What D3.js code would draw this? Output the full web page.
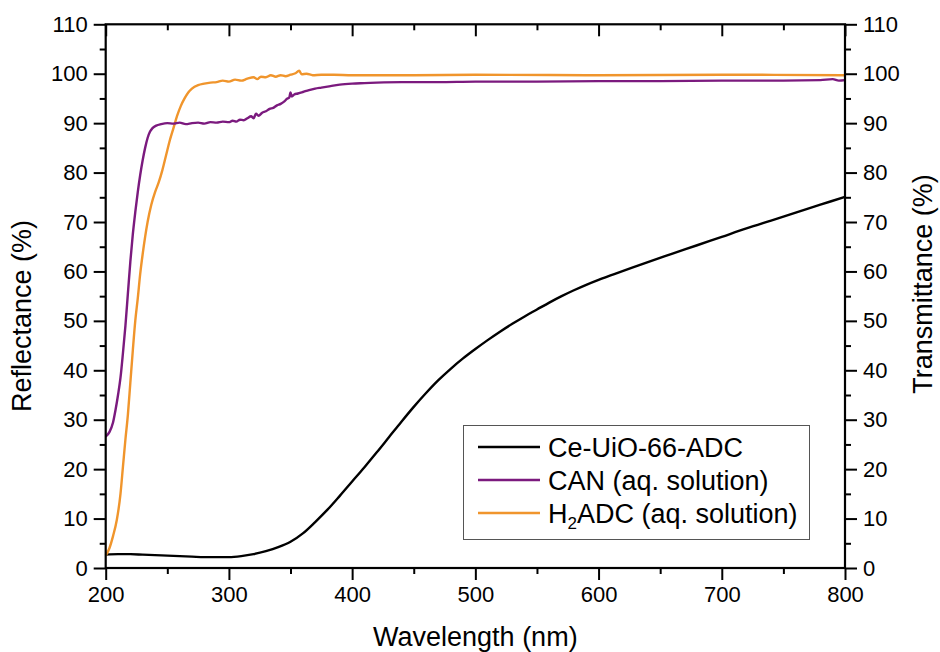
<!DOCTYPE html>
<html><head><meta charset="utf-8">
<script src="https://cdn.jsdelivr.net/npm/d3@7"></script>
<style>body{margin:0;background:#fff}svg{display:block;font-family:Arial,"Liberation Sans",sans-serif}</style>
</head><body><svg id="c" width="940" height="652"></svg>
<script>
// ---- data ----
const xTicks = [200, 300, 400, 500, 600, 700, 800];
const yTicks = [0, 10, 20, 30, 40, 50, 60, 70, 80, 90, 100, 110];
const seriesNames = ["Ce-UiO-66-ADC", "CAN (aq. solution)", "H2ADC (aq. solution)"];
const seriesColors = ["#000000", "#7b1a7e", "#f0952c"];

const ceWl  = [200,210,220,230,240,250,260,270,280,290,300,310,320,330,340,350,360,370,380,390,400,410,420,430,440,450,460,470,480,490,500,510,520,530,540,550,560,570,580,590,600,620,640,660,680,700,720,740,760,780,800];
const ceVal = [2.7,2.8,2.8,2.7,2.6,2.5,2.4,2.3,2.2,2.2,2.2,2.4,2.8,3.4,4.2,5.3,7.0,9.3,11.8,14.6,17.5,20.4,23.4,26.5,29.6,32.6,35.4,38.0,40.3,42.4,44.3,46.1,47.8,49.4,50.9,52.3,53.7,55.0,56.2,57.3,58.3,60.1,61.9,63.6,65.3,67.0,68.7,70.3,71.9,73.5,75.1];

const canWl  = [200,203,206,208,210,212,214,216,218,220,222,224,226,228,230,232,234,236,238,241,245,250,255,260,265,270,275,280,285,290,295,300,303,306,309,312,315,318,320,322,324,327,330,333,336,339,342,345,347,349,350,351,353,356,360,365,370,375,380,390,400,410,420,440,470,500,550,600,650,700,750,780,790,795,800];
const canVal = [26.6,27.5,29.5,32,35,38.5,43.5,49,55.5,62,67.5,72,76,79.5,82.5,85,87,88.3,89,89.5,89.8,90,89.9,90.1,89.8,90,90.1,89.9,90.2,90.1,90.3,90.2,90.5,90.3,90.7,90.6,91.0,91.4,91.0,91.9,91.5,92.1,92.4,92.9,93.1,93.6,93.9,94.4,94.9,95.2,96.2,95.4,95.8,96.0,96.3,96.7,97.0,97.2,97.4,97.8,98.0,98.1,98.2,98.3,98.3,98.4,98.4,98.5,98.5,98.6,98.6,98.7,98.9,98.6,98.7];

const h2Wl  = [200,203,206,209,212,214,216,218,220,222,224,226,228,230,232,234,237,240,243,246,249,252,255,258,261,264,267,270,275,280,285,290,295,300,305,310,315,320,323,326,330,334,338,342,346,350,354,357,359,363,368,375,385,400,450,500,600,700,800];
const h2Val = [2.5,4,6.5,9.7,15,20.5,26,31,37.5,44,50,54.5,59.5,63.5,67,70,73.5,76,78,80.5,83.5,86.5,89,91.5,93.5,95,96.2,97,97.7,98,98.2,98.3,98.6,98.4,98.8,98.6,99.0,99.3,98.9,99.4,99.3,99.7,99.4,99.7,99.5,99.8,100.1,100.6,99.9,100.0,99.7,99.8,99.8,99.7,99.7,99.8,99.7,99.8,99.7];

// ---- layout ----
const svg = d3.select("#c");
const L = 105.7, R = 845, T = 24.3, B = 568;
const x = d3.scaleLinear().domain([200, 800]).range([L, R]);
const y = d3.scaleLinear().domain([0, 110]).range([B, T]);

const series = [
  {wl: ceWl, v: ceVal, c: seriesColors[0]},
  {wl: canWl, v: canVal, c: seriesColors[1]},
  {wl: h2Wl, v: h2Val, c: seriesColors[2]}
];
const line = d3.line().x(d => x(d[0])).y(d => y(d[1])).curve(d3.curveMonotoneX);
[0, 2, 1].forEach(i => {
  const s = series[i];
  svg.append("path").datum(s.wl.map((w, k) => [w, s.v[k]]))
    .attr("d", line).attr("fill", "none").attr("stroke", s.c).attr("stroke-width", 2.4)
    .attr("stroke-linejoin", "round");
});

// ---- axes ----
const xMinor = d3.range(250, 800, 100);
const yMinor = d3.range(5, 110, 10);
function styleAxis(g) {
  g.select(".domain").remove();
  g.selectAll(".tick line").attr("stroke", "#000").attr("stroke-width", 2);
  g.selectAll(".tick text").attr("font-size", 22).attr("fill", "#000").attr("font-family", "Arial, 'Liberation Sans', sans-serif");
}
svg.append("g").attr("transform", `translate(0,${B})`)
  .call(d3.axisBottom(x).tickValues(xTicks).tickSize(12).tickPadding(6).tickFormat(d3.format("d"))).call(styleAxis);
svg.append("g").attr("transform", `translate(0,${B})`)
  .call(d3.axisBottom(x).tickValues(xMinor).tickSize(6).tickFormat("")).call(styleAxis);
svg.append("g").attr("transform", `translate(0,${T})`)
  .call(d3.axisBottom(x).tickValues(xTicks).tickSize(12).tickFormat("")).call(styleAxis);
svg.append("g").attr("transform", `translate(0,${T})`)
  .call(d3.axisBottom(x).tickValues(xMinor).tickSize(6).tickFormat("")).call(styleAxis);
svg.append("g").attr("transform", `translate(${L},0)`)
  .call(d3.axisLeft(y).tickValues(yTicks).tickSize(12).tickPadding(6).tickFormat(d3.format("d"))).call(styleAxis);
svg.append("g").attr("transform", `translate(${L},0)`)
  .call(d3.axisLeft(y).tickValues(yMinor).tickSize(6).tickFormat("")).call(styleAxis);
svg.append("g").attr("transform", `translate(${R},0)`)
  .call(d3.axisRight(y).tickValues(yTicks).tickSize(12).tickPadding(6).tickFormat(d3.format("d"))).call(styleAxis);
svg.append("g").attr("transform", `translate(${R},0)`)
  .call(d3.axisRight(y).tickValues(yMinor).tickSize(6).tickFormat("")).call(styleAxis);

svg.append("rect").attr("x", L).attr("y", T).attr("width", R - L).attr("height", B - T)
  .attr("fill", "none").attr("stroke", "#000").attr("stroke-width", 2.2);

// ---- titles ----
svg.append("text").attr("x", (L + R) / 2).attr("y", 646).attr("text-anchor", "middle")
  .attr("font-size", 27).text("Wavelength (nm)");
svg.append("text").attr("transform", "translate(31,316) rotate(-90)").attr("text-anchor", "middle")
  .attr("font-size", 27).text("Reflectance (%)");
svg.append("text").attr("transform", "translate(932,284) rotate(-90)").attr("text-anchor", "middle")
  .attr("font-size", 27).text("Transmittance (%)");

// ---- legend ----
const lg = svg.append("g");
lg.append("rect").attr("x", 463.5).attr("y", 425.5).attr("width", 346).attr("height", 114)
  .attr("fill", "#fff").attr("stroke", "#555").attr("stroke-width", 1);
const rowY = [447, 480, 513];
seriesNames.forEach((name, i) => {
  lg.append("line").attr("x1", 478).attr("x2", 540).attr("y1", rowY[i]).attr("y2", rowY[i])
    .attr("stroke", seriesColors[i]).attr("stroke-width", 2.4);
  const t = lg.append("text").attr("x", 548).attr("y", rowY[i] + 9.5).attr("font-size", 27);
  if (name.startsWith("H2")) {
    t.append("tspan").text("H");
    t.append("tspan").attr("font-size", 17).attr("dy", 6).text("2");
    t.append("tspan").attr("dy", -6).text(name.slice(2));
  } else {
    t.text(name);
  }
});
</script></body></html>
